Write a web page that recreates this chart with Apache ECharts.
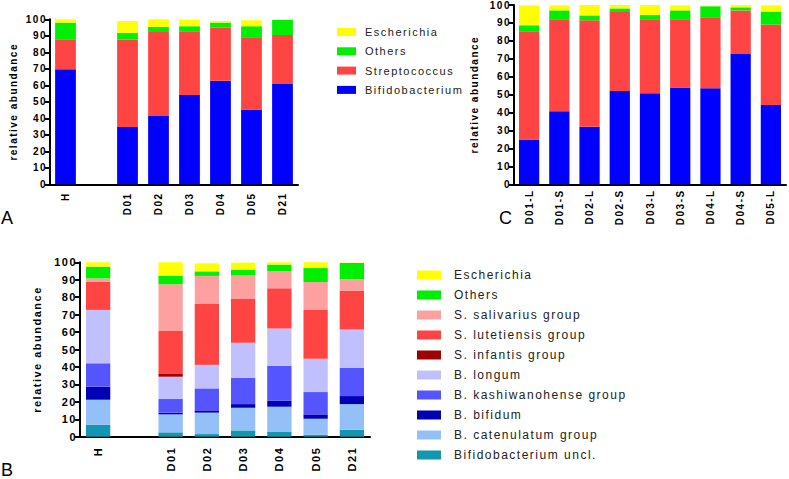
<!DOCTYPE html>
<html><head><meta charset="utf-8">
<script src="https://cdn.jsdelivr.net/npm/echarts@6/dist/echarts.min.js"></script>
<style>
html,body{margin:0;padding:0;background:#fff;}
#chart{width:789px;height:479px;}
#chart text{letter-spacing:1.5px;}
</style>
</head><body><div id="chart"></div>
<script>
// ---- Panel A ----
const catsA = ['H', '', 'D01', 'D02', 'D03', 'D04', 'D05', 'D21'];
const aBifido = [69.7, '-', 34.7, 41.4, 54.1, 62.8, 45.3, 60.8];
const aStrep  = [18.2, '-', 53.0, 50.9, 38.6, 32.2, 43.4, 29.7];
const aOthers = [10.1, '-', 4.0, 3.1, 3.1, 3.0, 7.1, 9.1];
const aEsch   = [2.0, '-', 7.3, 4.6, 4.0, 1.0, 3.6, 0.3];

// ---- Panel C ----
const catsC = ['D01-L', 'D01-S', 'D02-L', 'D02-S', 'D03-L', 'D03-S', 'D04-L', 'D04-S', 'D05-L'];
const cBifido = [25.0, 40.8, 32.1, 52.1, 50.8, 54.0, 53.6, 72.7, 44.2];
const cStrep  = [60.3, 51.2, 59.4, 44.0, 41.2, 38.0, 39.5, 24.3, 44.9];
const cOthers = [3.4, 5.0, 2.7, 2.0, 2.4, 5.0, 6.2, 1.7, 7.2];
const cEsch   = [11.1, 2.8, 5.8, 1.9, 5.6, 2.8, 0.3, 1.3, 3.5];

// ---- Panel B ----
const catsB = ['H', '', 'D01', 'D02', 'D03', 'D04', 'D05', 'D21'];
const bUncl     = [6.9, '-', 2.5, 1.5, 3.6, 2.7, 1.1, 4.0];
const bCaten    = [14.3, '-', 10.3, 12.3, 13.0, 14.5, 9.2, 14.7];
const bBifidum  = [7.5, '-', 1.0, 1.3, 2.1, 3.4, 2.5, 4.6];
const bKashi    = [13.4, '-', 7.8, 12.6, 15.1, 20.1, 12.8, 16.1];
const bLongum   = [30.6, '-', 12.8, 13.4, 20.1, 21.4, 19.1, 22.0];
const bInfantis = [0, '-', 1.9, 0.2, 0, 0, 0, 0];
const bLutet    = [16.2, '-', 24.3, 34.8, 25.4, 23.0, 28.0, 22.2];
const bSaliv    = [1.9, '-', 26.8, 16.1, 13.1, 9.7, 16.0, 6.8];
const bOthers   = [6.7, '-', 5.0, 2.6, 3.4, 3.9, 8.0, 9.2];
const bEsch     = [2.5, '-', 7.6, 4.6, 4.0, 1.3, 3.3, 0.2];

const namesA = ['Escherichia', 'Others', 'Streptococcus', 'Bifidobacterium'];
const namesB = ['Escherichia', 'Others', 'S. salivarius group', 'S. lutetiensis group', 'S. infantis group',
  'B. longum', 'B. kashiwanohense group', 'B. bifidum', 'B. catenulatum group', 'Bifidobacterium uncl.'];

const COL = {
  'Escherichia': '#ffff00', 'Others': '#00ee00', 'Streptococcus': '#ff4444', 'Bifidobacterium': '#0000ff',
  'S. salivarius group': '#ffa0a0', 'S. lutetiensis group': '#ff4444', 'S. infantis group': '#a00000',
  'B. longum': '#c0c0ff', 'B. kashiwanohense group': '#5555ff', 'B. bifidum': '#0000b4',
  'B. catenulatum group': '#94c0f8', 'Bifidobacterium uncl.': '#1496b0'
};

const FONT = 'Liberation Sans, Arial, sans-serif';

function yAx(gi, fs, nfs, gap) {
  return {
    type: 'value', gridIndex: gi, min: 0, max: 100, interval: 10,
    name: 'relative abundance', nameLocation: 'middle', nameRotate: 90, nameGap: gap,
    nameTextStyle: { fontFamily: FONT, fontWeight: 'bold', fontSize: nfs, color: '#000' },
    axisLine: { show: true, lineStyle: { color: '#000', width: 2 } },
    axisTick: { show: true, length: 5, lineStyle: { color: '#000', width: 2 } },
    axisLabel: { fontFamily: FONT, fontWeight: 'bold', fontSize: fs, color: '#000', margin: 3 },
    splitLine: { show: false }
  };
}
function xAx(gi, cats, fs, margin) {
  return {
    type: 'category', gridIndex: gi, data: cats,
    axisLine: { lineStyle: { color: '#000', width: 2 } },
    axisTick: { alignWithLabel: true, length: 5, lineStyle: { color: '#000', width: 2 } },
    axisLabel: { rotate: 90, interval: 0, fontFamily: FONT, fontWeight: 'bold', fontSize: fs, color: '#000', margin: margin }
  };
}
function ser(name, data, axis, stack) {
  return {
    type: 'bar', name: name, data: data, stack: stack, xAxisIndex: axis, yAxisIndex: axis,
    barCategoryGap: '33%', itemStyle: { color: COL[name] }, emphasis: { disabled: true }
  };
}

const series = [
  ser('Bifidobacterium', aBifido, 0, 'a'),
  ser('Streptococcus', aStrep, 0, 'a'),
  ser('Others', aOthers, 0, 'a'),
  ser('Escherichia', aEsch, 0, 'a'),
  ser('Bifidobacterium', cBifido, 1, 'c'),
  ser('Streptococcus', cStrep, 1, 'c'),
  ser('Others', cOthers, 1, 'c'),
  ser('Escherichia', cEsch, 1, 'c'),
  ser('Bifidobacterium uncl.', bUncl, 2, 'b'),
  ser('B. catenulatum group', bCaten, 2, 'b'),
  ser('B. bifidum', bBifidum, 2, 'b'),
  ser('B. kashiwanohense group', bKashi, 2, 'b'),
  ser('B. longum', bLongum, 2, 'b'),
  ser('S. infantis group', bInfantis, 2, 'b'),
  ser('S. lutetiensis group', bLutet, 2, 'b'),
  ser('S. salivarius group', bSaliv, 2, 'b'),
  ser('Others', bOthers, 2, 'b'),
  ser('Escherichia', bEsch, 2, 'b')
];

const chart = echarts.init(document.getElementById('chart'), null, { renderer: 'svg' });
chart.setOption({
  animation: false,
  backgroundColor: '#fff',
  grid: [
    { left: 50, top: 19.3, width: 248, height: 165 },
    { left: 514, top: 4.7, width: 272, height: 179.6 },
    { left: 80, top: 262.3, width: 290, height: 174.4 }
  ],
  xAxis: [xAx(0, catsA, 10, 8), xAx(1, catsC, 10, 5), xAx(2, catsB, 11, 10)],
  yAxis: [yAx(0, 10, 10, 32), yAx(1, 10, 10, 35), yAx(2, 11, 11, 38)],
  legend: [
    {
      data: namesA, orient: 'vertical', left: 332, top: 20, itemWidth: 19, itemHeight: 8, itemGap: 5.3,
      icon: 'rect', selectedMode: false,
      textStyle: { fontFamily: FONT, fontSize: 11, color: '#222', lineHeight: 14, padding: [0, 0, 0, 4] }
    },
    {
      data: namesB, orient: 'vertical', left: 412, top: 263, itemWidth: 24, itemHeight: 9, itemGap: 6,
      icon: 'rect', selectedMode: false,
      textStyle: { fontFamily: FONT, fontSize: 12, color: '#222', lineHeight: 14, padding: [0, 0, 0, 8] }
    }
  ],
  graphic: [
    { type: 'text', left: 1, top: 209, style: { text: 'A', fontFamily: FONT, fontSize: 18, fill: '#000' } },
    { type: 'text', left: 499, top: 209, style: { text: 'C', fontFamily: FONT, fontSize: 18, fill: '#000' } },
    { type: 'text', left: 1, top: 461, style: { text: 'B', fontFamily: FONT, fontSize: 18, fill: '#000' } }
  ],
  series: series
});
</script>
</body></html>
